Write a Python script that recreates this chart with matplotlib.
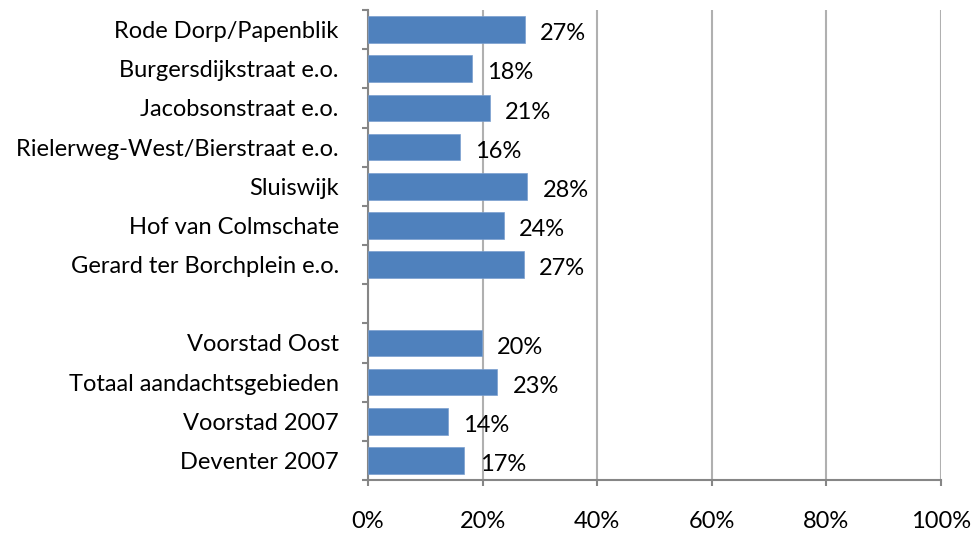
import numpy as np
import matplotlib.pyplot as plt
from matplotlib.ticker import FixedLocator, PercentFormatter

# data (percent)
categories = ['Rode Dorp/Papenblik', 'Burgersdijkstraat e.o.', 'Jacobsonstraat e.o.',
              'Rielerweg-West/Bierstraat e.o.', 'Sluiswijk', 'Hof van Colmschate',
              'Gerard ter Borchplein e.o.', '', 'Voorstad Oost',
              'Totaal aandachtsgebieden', 'Voorstad 2007', 'Deventer 2007']
values = [27.4, 18.1, 21.3, 16.0, 27.8, 23.7, 27.2, None, 19.9, 22.6, 14.0, 16.8]
labels = ['27%', '18%', '21%', '16%', '28%', '24%', '27%', '', '20%', '23%', '14%', '17%']

plt.rcParams['font.family'] = ['Lato', 'DejaVu Sans']

fig = plt.figure(figsize=(9.75, 5.34), dpi=100)
ax = fig.add_axes([368 / 975, 1 - 480 / 534, (941 - 368) / 975, 470 / 534])

grey = '#868686'
pos = np.arange(len(categories))
for i, v in enumerate(values):
    if v is None:
        continue
    ax.barh(pos[i], v, height=0.68, color='#4F81BD', edgecolor='#7a9fcf', linewidth=0.5, zorder=3)
    ax.annotate(labels[i], (v, pos[i]), xytext=(11, -3), textcoords='offset points',
                ha='left', va='center', fontsize=17, color='black', zorder=4)

ax.set_xlim(0, 100)
ax.set_ylim(len(categories) - 0.5, -0.5)
ax.set_xticks(np.arange(0, 101, 20))
ax.xaxis.set_major_formatter(PercentFormatter(decimals=0))
ax.set_yticks(pos)
ax.set_yticklabels(categories)
ax.yaxis.set_minor_locator(FixedLocator(np.arange(-0.5, len(categories), 1)))

ax.tick_params(axis='y', which='major', length=0, pad=21, labelsize=17)
ax.tick_params(axis='y', which='minor', length=4, color=grey, width=1.5)
ax.tick_params(axis='x', which='major', length=4, color=grey, width=1.5, pad=18, labelsize=17)

ax.grid(axis='x', color='#b0b0b0', linewidth=1.5, zorder=0)
for s in ['top', 'right']:
    ax.spines[s].set_visible(False)
ax.spines['left'].set_color(grey)
ax.spines['bottom'].set_color(grey)
ax.spines['left'].set_linewidth(1.5)
ax.spines['bottom'].set_linewidth(1.5)

fig.savefig('out.png', dpi=100)
